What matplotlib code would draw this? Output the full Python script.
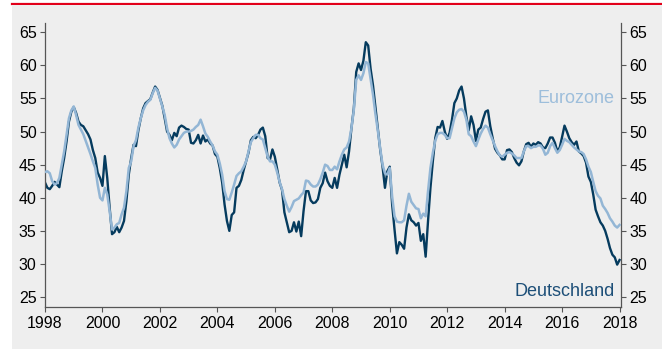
"""
Deutschland vs. Eurozone, monthly index 1998-2018
"""

import matplotlib.pyplot as plt
import numpy as np
from matplotlib.lines import Line2D
from matplotlib.patches import Rectangle

plt.rcParams['font.family'] = ['Liberation Sans', 'DejaVu Sans']

# ========== data (monthly, Jan 1998 .. Jan 2018) ==========
deutschland = [
    42.3, 41.5, 41.3, 41.8, 42.4, 42.0, 41.6, 44.0, 46.0, 48.5, 51.5, 53.0,  # 1998
    53.7, 52.8, 51.5, 51.0, 50.8, 50.2, 49.6, 48.8, 47.2, 46.0, 43.8, 43.0,  # 1999
    41.8, 46.3, 43.0, 38.5, 34.5, 34.8, 35.6, 34.8, 35.5, 36.5, 39.5, 43.5,  # 2000
    46.0, 48.0, 47.8, 50.2, 52.0, 53.5, 54.3, 54.6, 54.9, 55.9, 56.8, 56.3,  # 2001
    55.1, 53.9, 52.0, 50.0, 49.5, 48.7, 49.8, 49.3, 50.6, 50.9, 50.7, 50.4,  # 2002
    50.3, 48.3, 48.2, 48.7, 49.5, 48.2, 49.4, 48.5, 48.8, 48.2, 47.9, 46.6,  # 2003
    46.2, 44.5, 42.3, 39.0, 36.5, 35.0, 37.4, 37.8, 41.5, 41.8, 42.7, 44.2,  # 2004
    45.5, 46.8, 48.7, 49.2, 49.0, 49.5, 50.3, 50.6, 49.3, 46.0, 45.8, 47.3,  # 2005
    46.2, 44.3, 42.3, 41.2, 37.8, 36.3, 34.8, 35.0, 36.3, 34.9, 36.4, 34.2,  # 2006
    38.0, 41.0, 41.0, 39.6, 39.2, 39.3, 39.8, 41.5, 42.2, 43.8, 42.5, 41.8,  # 2007
    41.5, 43.0, 41.5, 43.5, 45.0, 46.5, 44.6, 47.0, 50.5, 53.5, 59.0, 60.3,  # 2008
    59.3, 60.7, 63.5, 63.0, 59.5, 57.0, 53.8, 50.7, 47.3, 44.7, 41.5, 44.0,  # 2009
    44.7, 39.0, 35.2, 31.6, 33.3, 32.9, 32.3, 35.5, 37.5, 36.6, 36.3, 35.8,  # 2010
    36.2, 33.5, 34.5, 31.1, 36.5, 41.5, 45.5, 49.0, 50.7, 50.6, 51.6, 50.0,  # 2011
    48.9, 49.8, 51.8, 54.3, 55.0, 56.2, 56.8, 55.0, 52.3, 50.2, 52.3, 51.0,  # 2012
    48.6, 50.3, 50.6, 51.9, 53.0, 53.2, 50.8, 49.0, 47.4, 46.8, 46.4, 45.8,  # 2013
    45.8, 47.2, 47.3, 46.9, 46.0, 45.3, 44.9, 45.5, 47.0, 48.1, 48.3, 47.7,  # 2014
    48.2, 48.0, 48.4, 48.2, 47.6, 47.5, 48.2, 49.1, 49.1, 48.3, 47.0, 47.6,  # 2015
    49.2, 50.9, 50.0, 49.0, 48.4, 48.0, 48.5, 47.0, 46.7, 46.3, 45.3, 43.2,  # 2016
    42.4, 40.5, 38.2, 37.2, 36.3, 35.8, 35.0, 33.8, 32.4, 31.4, 31.0, 29.9,  # 2017
    30.6,
]
eurozone = [
    43.9, 44.0, 43.7, 42.5, 42.0, 42.2, 43.0, 45.0, 47.0, 49.5, 52.0, 53.2,  # 1998
    53.8, 52.5, 51.0, 50.3, 49.6, 48.6, 47.6, 46.6, 45.5, 44.5, 42.0, 40.0,  # 1999
    39.6, 41.5, 40.5, 38.0, 35.2, 35.5, 36.0, 36.2, 37.5, 38.5, 41.0, 44.5,  # 2000
    45.5, 47.8, 48.7, 50.6, 52.0, 53.2, 54.0, 54.5, 54.8, 55.8, 56.6, 56.2,  # 2001
    55.0, 53.8, 52.5, 50.5, 49.0, 48.2, 47.6, 48.0, 48.8, 49.3, 49.8, 50.0,  # 2002
    50.0, 50.1, 50.3, 50.7, 51.0, 51.8, 50.8, 49.7, 49.2, 48.5, 47.9, 47.0,  # 2003
    46.5, 45.2, 43.5, 41.0, 39.8, 39.7, 40.8, 42.0, 43.3, 43.7, 44.0, 44.7,  # 2004
    45.5, 47.0, 48.4, 49.0, 49.5, 49.5, 49.0, 48.8, 47.5, 46.2, 45.5, 45.5,  # 2005
    45.0, 43.8, 42.4, 41.3, 39.8, 38.8, 37.9, 38.6, 39.5, 39.7, 39.9, 40.4,  # 2006
    40.8, 42.6, 42.5, 42.0, 41.7, 41.7, 42.0, 42.8, 43.8, 45.0, 44.8, 44.2,  # 2007
    44.2, 44.7, 44.3, 45.5, 46.5, 47.3, 47.6, 48.5, 50.5, 53.3, 57.8, 58.5,  # 2008
    57.8, 58.8, 60.5, 60.3, 58.0, 55.6, 52.7, 50.2, 47.5, 45.0, 43.7, 43.5,  # 2009
    44.5, 40.2, 37.2, 36.4, 36.3, 36.3, 36.6, 38.8, 40.6, 39.4, 38.9, 38.4,  # 2010
    38.3, 36.9, 37.6, 37.2, 41.0, 44.5, 46.8, 48.6, 49.6, 49.8, 49.8, 49.5,  # 2011
    49.0, 49.0, 50.5, 52.0, 52.9, 53.3, 53.4, 53.0, 51.8, 49.6, 49.3, 48.5,  # 2012
    47.8, 48.8, 49.7, 50.4, 50.9, 50.6, 49.6, 48.7, 47.8, 47.0, 46.4, 46.2,  # 2013
    46.5, 46.8, 46.9, 46.7, 46.4, 46.0, 46.0, 46.0, 47.0, 47.8, 47.8, 47.5,  # 2014
    47.7, 47.7, 47.9, 47.9, 47.4, 46.5, 46.8, 47.8, 48.3, 47.5, 46.8, 47.2,  # 2015
    48.0, 48.9, 48.6, 48.4, 48.0, 47.6, 47.3, 47.0, 46.9, 46.6, 45.8, 44.7,  # 2016
    43.9, 42.4, 41.0, 40.3, 39.9, 38.8, 38.3, 37.7, 36.9, 36.4, 35.8, 35.5,  # 2017
    35.9,
]
start_year = 1998
year_ticks = list(range(1998, 2019, 2))
value_ticks = list(range(25, 66, 5))

months = start_year + np.arange(len(deutschland)) / 12

dark = '#053b5e'
light = '#93b6d5'
bg = '#eeeeee'
axis_col = '#555555'

fig = plt.figure(figsize=(6.62, 3.49), dpi=100)

# grey panel + red rule on top (behind the axes)
fig.patches.append(Rectangle((12 / 662, 0), 1 - 12 / 662, 344 / 349,
                             transform=fig.transFigure, facecolor=bg,
                             edgecolor='none', zorder=-10))
fig.lines.append(Line2D([12 / 662, 1], [345.5 / 349, 345.5 / 349],
                        transform=fig.transFigure, color='#e2001a', lw=1.6,
                        zorder=-10))

ax = fig.add_axes([45 / 662, 42 / 349, 576 / 662, 284 / 349])
ax.set_facecolor(bg)

ax.plot(months, deutschland, color=dark, lw=1.7, zorder=2,
        solid_joinstyle='round')
ax.plot(months, eurozone, color=light, lw=1.8, zorder=3,
        solid_joinstyle='round')

ax.set_xlim(1998, 2018.05)
ax.set_ylim(23.5, 66.4)
ax.set_xticks(year_ticks)
ax.set_yticks(value_ticks)

for s in ['left', 'right', 'bottom']:
    ax.spines[s].set_color(axis_col)
    ax.spines[s].set_linewidth(0.9)
ax.spines['top'].set_visible(False)

ax.tick_params(axis='both', direction='out', length=3.5, width=0.8,
               color=axis_col, labelsize=11.5, labelcolor='black')
ax.tick_params(axis='y', left=True, right=True, labelleft=True,
               labelright=True, pad=2.5)
ax.tick_params(axis='x', pad=3)

ax.text(2017.83, 55, 'Eurozone', color='#9dbedb', fontsize=13,
        ha='right', va='center')
ax.text(2017.83, 25.8, 'Deutschland', color='#1d4f78', fontsize=13,
        ha='right', va='center')

plt.savefig('out.png', dpi=100)
plt.close()
